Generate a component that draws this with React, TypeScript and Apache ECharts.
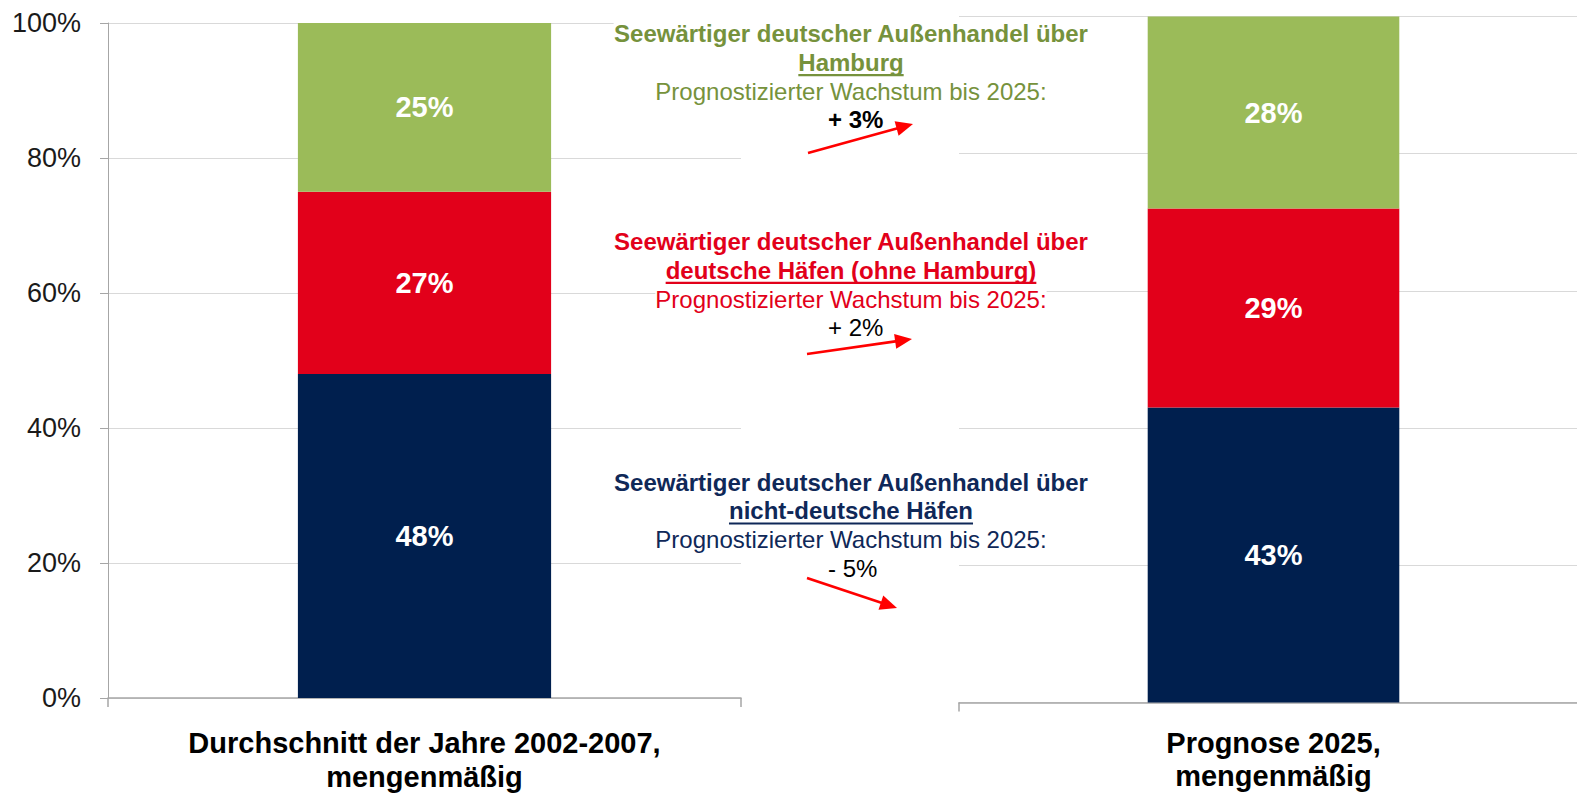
import React, { useEffect, useRef } from "react";
import * as echarts from "echarts";

// ---------- data ----------
const categoriesLeft = ["Durchschnitt der Jahre 2002-2007,\nmengenmäßig"];
const categoriesRight = ["Prognose 2025,\nmengenmäßig"];
const segmentNames = ["nicht-deutsche Häfen", "deutsche Häfen (ohne Hamburg)", "Hamburg"];
const valuesLeft = [48, 27, 25];
const valuesRight = [43, 29, 28];
const segmentColors = ["#001f4e", "#e2001a", "#9bbb59"];
const yMin = 0;
const yMax = 100;
const yInterval = 20;

// annotation texts (top to bottom)
const noteHeadline = "Seewärtiger deutscher Außenhandel über";
const noteTargets = ["Hamburg", "deutsche Häfen (ohne Hamburg)", "nicht-deutsche Häfen"];
const noteSubline = "Prognostizierter Wachstum bis 2025:";
const noteGrowth = ["+ 3%", "+ 2%", "- 5%"];
const noteColors = ["#76923c", "#e2001a", "#0f2858"];

const FONT = '"Liberation Sans", Arial, Helvetica, sans-serif';

function measure(text: string, font: string): number {
  const c = document.createElement("canvas");
  const ctx = c.getContext("2d");
  if (!ctx) return text.length * 12;
  ctx.font = font;
  return ctx.measureText(text).width;
}

function arrow(x1: number, y1: number, x2: number, y2: number) {
  const dx = x2 - x1;
  const dy = y2 - y1;
  const len = Math.sqrt(dx * dx + dy * dy);
  const ux = dx / len;
  const uy = dy / len;
  const headLen = 17;
  const halfW = 7.5;
  const bx = x2 - ux * headLen;
  const by = y2 - uy * headLen;
  const px = -uy;
  const py = ux;
  return [
    {
      type: "line",
      z: 100,
      shape: { x1, y1, x2: bx + ux * 2, y2: by + uy * 2 },
      style: { stroke: "#ff0000", lineWidth: 2.6 },
    },
    {
      type: "polygon",
      z: 100,
      shape: {
        points: [
          [x2, y2],
          [bx + px * halfW, by + py * halfW],
          [bx - px * halfW, by - py * halfW],
        ],
      },
      style: { fill: "#ff0000" },
    },
  ];
}

export default function App() {
  const ref = useRef<HTMLDivElement>(null);

  useEffect(() => {
    if (!ref.current) return;
    const chart = echarts.init(ref.current, undefined, { renderer: "svg" });

    const boldFont = `bold 24px ${FONT}`;
    const regFont = `24px ${FONT}`;
    const cx = 851;
    const blockTops = [33.7, 241.3, 482];
    const lineStep = 28.9;
    const arrows = [
      [808, 153, 913, 124],
      [807, 354, 912, 339],
      [807, 578, 897, 608],
    ];

    const graphics: any[] = [];
    for (let i = 0; i < 3; i++) {
      const y0 = blockTops[i];
      const col = noteColors[i];
      const txt = (text: string, x: number, y: number, font: string, fill: string, align: string) => ({
        type: "text",
        z: 100,
        style: {
          text,
          x,
          y,
          font,
          fill,
          align,
          textAlign: align,
          verticalAlign: "middle",
          textVerticalAlign: "middle",
          backgroundColor: "#ffffff",
          padding: [2, 0, 2, 0],
        },
      });
      graphics.push(txt(noteHeadline, cx, y0, boldFont, col, "center"));
      graphics.push(txt(noteTargets[i], cx, y0 + lineStep, boldFont, col, "center"));
      const w = measure(noteTargets[i], boldFont);
      graphics.push({
        type: "rect",
        z: 101,
        shape: { x: cx - w / 2, y: y0 + lineStep + 11.5, width: w, height: 2.2 },
        style: { fill: col },
      });
      graphics.push(txt(noteSubline, cx, y0 + 2 * lineStep, regFont, col, "center"));
      graphics.push(
        txt(noteGrowth[i], 828, y0 + 3 * lineStep - 0.5, i === 0 ? boldFont : regFont, "#000000", "left")
      );
      const a = arrows[i];
      graphics.push(...arrow(a[0], a[1], a[2], a[3]));
    }

    const axisLineStyle = { color: "#a6a6a6", width: 1.5 };
    const makeSeries = (values: number[], idx: number, stack: string) =>
      values.map((v, k) => ({
        name: segmentNames[k],
        type: "bar",
        stack,
        xAxisIndex: idx,
        yAxisIndex: idx,
        barWidth: "40%",
        data: [v],
        itemStyle: { color: segmentColors[k] },
        label: {
          show: true,
          position: "inside",
          formatter: "{c}%",
          color: "#ffffff",
          fontFamily: FONT,
          fontWeight: "bold",
          fontSize: 29,
        },
      }));

    const catLabel = {
      interval: 0,
      color: "#000000",
      fontFamily: FONT,
      fontWeight: "bold",
      fontSize: 29,
    };

    chart.setOption({
      animation: false,
      backgroundColor: "#ffffff",
      grid: [
        { left: 108, top: 23, width: 633, height: 675, outerBoundsMode: "none", containLabel: false },
        { left: 959, top: 16.5, width: 629, height: 686, outerBoundsMode: "none", containLabel: false },
      ],
      xAxis: [
        {
          type: "category",
          gridIndex: 0,
          data: categoriesLeft,
          axisLine: { show: true, lineStyle: axisLineStyle },
          axisTick: { show: true, length: 9, lineStyle: axisLineStyle },
          axisLabel: { ...catLabel, margin: 28, lineHeight: 34 },
        },
        {
          type: "category",
          gridIndex: 1,
          data: categoriesRight,
          axisLine: { show: true, lineStyle: axisLineStyle },
          axisTick: { show: true, length: 9, lineStyle: axisLineStyle },
          axisLabel: { ...catLabel, margin: 24, lineHeight: 33 },
        },
      ],
      yAxis: [
        {
          type: "value",
          gridIndex: 0,
          min: yMin,
          max: yMax,
          interval: yInterval,
          axisLine: { show: true, lineStyle: { color: "#a6a6a6", width: 1 } },
          axisTick: { show: true, length: 8, lineStyle: { color: "#a6a6a6", width: 1 } },
          splitLine: { show: true, lineStyle: { color: "#d9d9d9", width: 1.2 } },
          axisLabel: {
            formatter: "{value}%",
            margin: 27,
            color: "#1a1a1a",
            fontFamily: FONT,
            fontSize: 27,
          },
        },
        {
          type: "value",
          gridIndex: 1,
          min: yMin,
          max: yMax,
          interval: yInterval,
          axisLine: { show: false },
          axisTick: { show: false },
          axisLabel: { show: false },
          splitLine: { show: true, lineStyle: { color: "#d9d9d9", width: 1.2 } },
        },
      ],
      series: [...makeSeries(valuesLeft, 0, "left"), ...makeSeries(valuesRight, 1, "right")],
      graphic: graphics,
    });

    return () => chart.dispose();
  }, []);

  return (
    <div
      ref={ref}
      style={{ position: "fixed", left: 0, top: 0, width: 1577, height: 794, background: "#fff" }}
    />
  );
}
